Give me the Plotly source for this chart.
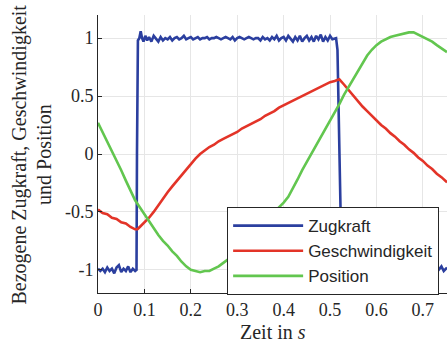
import plotly.graph_objects as go

# ---- data ----
zug_t = [0.000, 0.005, 0.010, 0.015, 0.020, 0.025, 0.030, 0.035, 0.040, 0.045, 0.050, 0.055, 0.060,
         0.065, 0.070, 0.075, 0.080, 0.083, 0.084, 0.086, 0.089, 0.092, 0.095, 0.098, 0.102, 0.106,
         0.110, 0.115, 0.120, 0.125, 0.130, 0.135, 0.140, 0.145, 0.150, 0.155, 0.160, 0.165, 0.170,
         0.175, 0.180, 0.185, 0.190, 0.195, 0.200, 0.205, 0.210, 0.215, 0.220, 0.225, 0.230, 0.235,
         0.240, 0.245, 0.250, 0.255, 0.260, 0.265, 0.270, 0.275, 0.280, 0.285, 0.290, 0.295, 0.300,
         0.305, 0.310, 0.315, 0.320, 0.325, 0.330, 0.335, 0.340, 0.345, 0.350, 0.355, 0.360, 0.365,
         0.370, 0.375, 0.380, 0.385, 0.390, 0.395, 0.400, 0.405, 0.410, 0.415, 0.420, 0.425, 0.430,
         0.435, 0.440, 0.445, 0.450, 0.455, 0.460, 0.465, 0.470, 0.475, 0.480, 0.485, 0.490, 0.495,
         0.500, 0.505, 0.510, 0.513, 0.516, 0.519, 0.522, 0.525, 0.530, 0.540, 0.550, 0.560, 0.570,
         0.580, 0.590, 0.600, 0.610, 0.620, 0.630, 0.640, 0.650, 0.660, 0.670, 0.680, 0.690, 0.700,
         0.710, 0.720, 0.730, 0.740, 0.745, 0.752]
zug_y = [-0.99, -1.01, -0.99, -1.02, -0.98, -1.01, -0.99, -1.03, -0.98, -0.96, -1.02, -0.99, -1.01,
         -0.97, -1.02, -0.99, -1.01, -1.00, 0.00, 0.98, 1.00, 1.06, 1.00, 0.97, 1.02, 0.98,
         1.01, 0.97, 1.02, 0.99, 0.97, 1.01, 0.98, 1.00, 0.99, 1.01, 0.98, 1.00, 1.01,
         0.99, 1.00, 1.02, 0.99, 1.00, 1.01, 0.99, 1.00, 1.01, 0.99, 1.00, 1.00, 1.01,
         0.99, 1.00, 1.00, 1.01, 1.00, 0.99, 1.00, 1.01, 1.00, 0.99, 1.01, 0.98, 1.00,
         1.01, 1.00, 0.99, 1.00, 1.01, 1.00, 0.99, 1.00, 1.00, 0.98, 1.01, 0.99, 1.00,
         0.98, 1.01, 0.99, 1.02, 0.98, 1.00, 1.01, 0.98, 1.02, 0.99, 0.97, 1.01, 0.98,
         1.02, 0.97, 1.00, 1.02, 0.98, 1.01, 0.97, 1.02, 0.99, 1.03, 0.97, 1.01, 0.98,
         1.02, 0.99, 1.00, 1.00, 0.90, 0.30, -0.50, -0.98, -1.01, -0.99, -1.02, -0.98, -1.00,
         -1.01, -0.99, -1.02, -0.98, -1.01, -0.99, -1.00, -1.02, -0.98, -1.01, -0.99, -1.02, -0.98,
         -1.01, -0.99, -1.02, -0.97, -1.01, -0.98]

ges_t = [0.00, 0.01, 0.02, 0.03, 0.04, 0.05, 0.06, 0.07, 0.08, 0.085, 0.09, 0.10, 0.11, 0.12, 0.13,
         0.14, 0.15, 0.16, 0.17, 0.18, 0.19, 0.20, 0.21, 0.22, 0.23, 0.24, 0.25, 0.26, 0.27, 0.28,
         0.29, 0.30, 0.31, 0.32, 0.33, 0.34, 0.35, 0.36, 0.37, 0.38, 0.39, 0.40, 0.41, 0.42, 0.43,
         0.44, 0.45, 0.46, 0.47, 0.48, 0.49, 0.50, 0.51, 0.52, 0.53, 0.54, 0.55, 0.56, 0.57, 0.58,
         0.59, 0.60, 0.61, 0.62, 0.63, 0.64, 0.65, 0.66, 0.67, 0.68, 0.69, 0.70, 0.71, 0.72, 0.73,
         0.74, 0.752]
ges_y = [-0.48, -0.51, -0.52, -0.55, -0.56, -0.59, -0.60, -0.63, -0.65, -0.65, -0.63, -0.59, -0.55,
         -0.50, -0.44, -0.39, -0.33, -0.28, -0.23, -0.18, -0.13, -0.08, -0.04, 0.00, 0.03, 0.06,
         0.08, 0.11, 0.13, 0.15, 0.17, 0.19, 0.22, 0.24, 0.26, 0.28, 0.30, 0.33, 0.35, 0.37, 0.40,
         0.42, 0.44, 0.46, 0.48, 0.50, 0.52, 0.54, 0.56, 0.58, 0.60, 0.62, 0.63, 0.645, 0.60, 0.55,
         0.50, 0.46, 0.41, 0.37, 0.33, 0.29, 0.25, 0.22, 0.18, 0.15, 0.11, 0.08, 0.04, 0.01, -0.03,
         -0.06, -0.10, -0.13, -0.17, -0.20, -0.245]

pos_t = [0.00, 0.01, 0.02, 0.03, 0.04, 0.05, 0.06, 0.07, 0.08, 0.09, 0.10, 0.11, 0.12, 0.13, 0.14,
         0.15, 0.16, 0.17, 0.18, 0.19, 0.20, 0.21, 0.22, 0.23, 0.24, 0.25, 0.26, 0.27, 0.28, 0.29,
         0.30, 0.31, 0.32, 0.33, 0.34, 0.35, 0.36, 0.37, 0.38, 0.39, 0.40, 0.41, 0.42, 0.43, 0.44,
         0.45, 0.46, 0.47, 0.48, 0.49, 0.50, 0.51, 0.52, 0.53, 0.54, 0.55, 0.56, 0.57, 0.58, 0.59,
         0.60, 0.61, 0.62, 0.63, 0.64, 0.65, 0.66, 0.67, 0.68, 0.69, 0.70, 0.71, 0.72, 0.73, 0.74,
         0.752]
pos_y = [0.27, 0.19, 0.11, 0.03, -0.06, -0.14, -0.23, -0.31, -0.40, -0.46, -0.52, -0.59, -0.65,
         -0.70, -0.75, -0.79, -0.84, -0.88, -0.93, -0.97, -1.00, -1.01, -1.02, -1.01, -1.01, -0.99,
         -0.97, -0.94, -0.91, -0.88, -0.84, -0.80, -0.76, -0.72, -0.67, -0.62, -0.58, -0.54, -0.50,
         -0.46, -0.42, -0.37, -0.30, -0.22, -0.14, -0.07, 0.00, 0.07, 0.14, 0.21, 0.28, 0.35, 0.43,
         0.51, 0.58, 0.65, 0.72, 0.79, 0.85, 0.90, 0.94, 0.97, 0.99, 1.01, 1.02, 1.03, 1.04, 1.05,
         1.05, 1.03, 1.01, 0.99, 0.97, 0.94, 0.91, 0.88]

x_ticks = [0, 0.1, 0.2, 0.3, 0.4, 0.5, 0.6, 0.7]
y_ticks = [-1, -0.5, 0, 0.5, 1]
y_ticklabels = ["-1", "-0.5", "0", "0.5", "1"]

BLUE = "#2b3f9f"
RED = "#e33428"
GREEN = "#62c64f"
SERIF = "Liberation Serif"

fig = go.Figure()
fig.add_trace(go.Scatter(x=zug_t, y=zug_y, mode="lines", name="Zugkraft",
                         line=dict(color=BLUE, width=2.6)))
fig.add_trace(go.Scatter(x=ges_t, y=ges_y, mode="lines", name="Geschwindigkeit",
                         line=dict(color=RED, width=2.6)))
fig.add_trace(go.Scatter(x=pos_t, y=pos_y, mode="lines", name="Position",
                         line=dict(color=GREEN, width=2.6)))

axis_common = dict(showline=True, linecolor="#262626", linewidth=1, ticks="inside", ticklen=4,
                   tickcolor="#262626", showgrid=True, gridcolor="#e6e6e6", gridwidth=1,
                   zeroline=False, tickfont=dict(family=SERIF, size=18, color="#262626"))

fig.update_layout(
    width=447, height=347,
    margin=dict(l=98, r=0, t=15, b=54),
    paper_bgcolor="white", plot_bgcolor="white",
    showlegend=True,
    legend=dict(x=0.37, y=0.309, xanchor="left", yanchor="top",
                bgcolor="white", bordercolor="#262626", borderwidth=1,
                font=dict(family="Liberation Sans", size=17, color="#262626"),
                itemwidth=70, tracegroupgap=0),
    xaxis=dict(range=[0, 0.752], tickvals=x_ticks, **axis_common),
    yaxis=dict(range=[-1.2, 1.2], tickvals=y_ticks, ticktext=y_ticklabels, **axis_common),
    annotations=[
        dict(text="Zeit in <i>s</i>", xref="paper", yref="paper", x=0.5, y=-0.095,
             xanchor="center", yanchor="top", showarrow=False,
             font=dict(family=SERIF, size=20, color="#262626")),
        dict(text="Bezogene Zugkraft, Geschwindigkeit", xref="paper", yref="paper",
             x=-0.225, y=0.5, xanchor="center", yanchor="middle", textangle=-90,
             showarrow=False, font=dict(family=SERIF, size=20, color="#262626")),
        dict(text="und Position", xref="paper", yref="paper",
             x=-0.155, y=0.5, xanchor="center", yanchor="middle", textangle=-90,
             showarrow=False, font=dict(family=SERIF, size=20, color="#262626")),
    ],
)

fig.write_html("out.html")
